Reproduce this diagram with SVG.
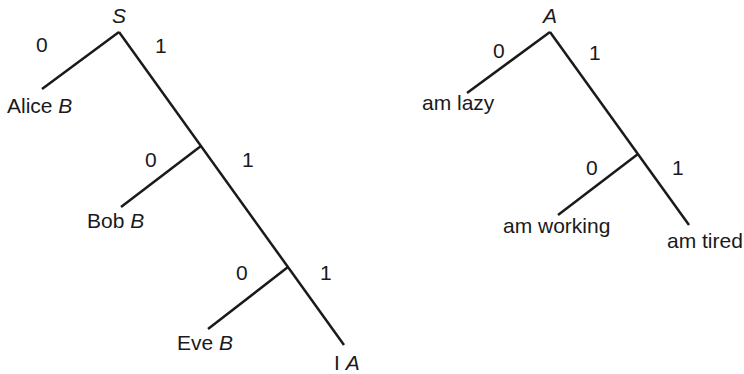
<svg xmlns="http://www.w3.org/2000/svg" width="744" height="374" viewBox="0 0 744 374">
<style>
.e{stroke:#1a1a1a;stroke-width:2.5;fill:none;stroke-linecap:butt}
text{font-family:"Liberation Sans",Arial,sans-serif;font-size:21px;fill:#1a1a1a}
.i{font-style:italic}
</style>
<rect width="744" height="374" fill="#fff"/>
<g id="connectors">
<line class="e" x1="119" y1="32" x2="42" y2="89"/>
<line class="e" x1="119" y1="32" x2="344" y2="345"/>
<line class="e" x1="201" y1="146" x2="121" y2="207"/>
<line class="e" x1="288" y1="267" x2="208" y2="329"/>
<line class="e" x1="550" y1="32" x2="467" y2="93"/>
<line class="e" x1="550" y1="32" x2="689" y2="225"/>
<line class="e" x1="638" y1="154" x2="558" y2="215"/>
<text x="36" y="52">0</text>
<text x="155" y="53">1</text>
<text x="145" y="167">0</text>
<text x="242" y="167">1</text>
<text x="236" y="280">0</text>
<text x="320" y="280">1</text>
<text x="493" y="58">0</text>
<text x="589" y="60">1</text>
<text x="586" y="175">0</text>
<text x="672" y="175">1</text>
</g>
<g id="S"><text class="i" x="119" y="23" text-anchor="middle">S</text></g>
<g id="alice"><text x="7" y="113">Alice <tspan class="i">B</tspan></text></g>
<g id="bob"><text x="87" y="228">Bob <tspan class="i">B</tspan></text></g>
<g id="eve"><text x="177" y="350">Eve <tspan class="i">B</tspan></text></g>
<g id="IA"><text x="334" y="370">I <tspan class="i">A</tspan></text></g>
<g id="A"><text class="i" x="550" y="23" text-anchor="middle">A</text></g>
<g id="lazy"><text x="422" y="110">am lazy</text></g>
<g id="working"><text x="503" y="233">am working</text></g>
<g id="tired"><text x="667" y="248">am tired</text></g>
</svg>
